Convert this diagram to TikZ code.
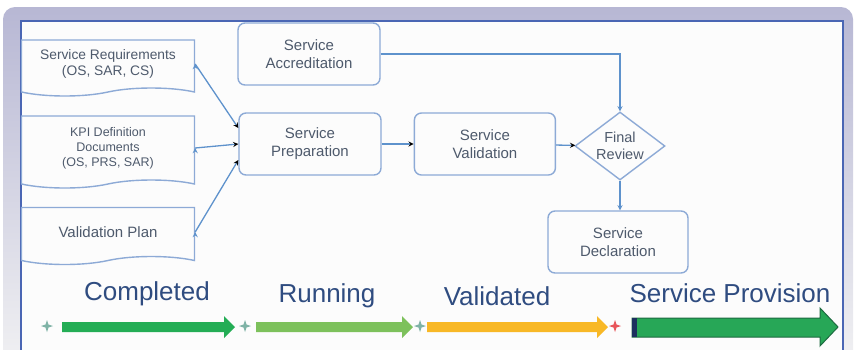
\documentclass[tikz,border=0pt]{standalone}
\usepackage{fontspec}
\setmainfont{Liberation Sans}
\usetikzlibrary{positioning,shapes.geometric,shapes.symbols}

\definecolor{boxline}{HTML}{8DAAD6}
\definecolor{flowline}{HTML}{5E92CC}
\definecolor{boxtext}{HTML}{4E5A6C}
\definecolor{phasetext}{HTML}{2F4C80}
\definecolor{panelline}{HTML}{4A66B4}
\definecolor{donegreen}{HTML}{24AD55}
\definecolor{rungreen}{HTML}{7DC15C}
\definecolor{validorange}{HTML}{F8B826}
\definecolor{provgreen}{HTML}{27A757}
\definecolor{provedge}{HTML}{1D6B40}
\definecolor{provnavy}{HTML}{1C2F5E}
\definecolor{markteal}{HTML}{7FB3A6}
\definecolor{markred}{HTML}{E8555A}

\begin{document}
\begin{tikzpicture}[x=1pt, y=-1pt,
  doc/.style={tape, draw=boxline, line width=1.4pt, tape bend top=none, tape bend bottom=in and out, tape bend height=8pt, minimum width=173pt, align=center, text=boxtext, font=\fontsize{12.5}{15}\selectfont, inner sep=2pt},
  proc/.style={rectangle, rounded corners=7pt, draw=boxline, line width=1.4pt, minimum width=142pt, minimum height=62pt, align=center, text=boxtext, font=\fontsize{15}{18}\selectfont},
  dec/.style={diamond, draw=boxline, line width=1.4pt, minimum width=90pt, minimum height=68pt, inner sep=0pt, aspect=1.3, align=center, text=boxtext, font=\fontsize{14.5}{17}\selectfont},
  phase/.style={text=phasetext, font=\fontsize{26}{30}\selectfont},
  flow/.style={->, >=stealth, draw=flowline, line width=1.3pt}]

	% frame
	\useasboundingbox (0,0) rectangle (854,349);
	\shade[top color=blue!25!gray!45, bottom color=blue!5!gray!10, rounded corners=12pt] (3,7) rectangle (853,370);
	\fill[white!98!gray] (21,21) rectangle (843,360);
	\draw[panelline, line width=1.3pt] (21,360) -- (21,21) -- (843,21) -- (843,360);

	% documents
	\node[doc, minimum height=56pt, font=\fontsize{13.8}{16}\selectfont] (req) at (108,64) {Service Requirements\\(OS, SAR, CS)};
	\node[doc, minimum height=72pt] (kpi) at (108,148) {KPI Definition\\Documents\\(OS, PRS, SAR)};
	\node[doc, minimum height=57pt, font=\fontsize{15}{18}\selectfont] (plan) at (108,232) {Validation Plan};

	% process
	\node[proc] (accr) at (309,54) {Service\\Accreditation};
	\node[proc] (prep) at (310,144) {Service\\Preparation};
	\node[proc, minimum width=141pt, right=32pt of prep] (valid) {Service\\Validation};
	\node[dec] (review) at (620,146) {Final\\Review};
	\node[proc, minimum width=140pt] (decl) at (618,242) {Service\\Declaration};

	\path[flow] (req.east) edge ([yshift=16pt]prep.west);
	\path[flow] (kpi.east) edge (prep.west);
	\path[flow] (plan.east) edge ([yshift=-16pt]prep.west);
	\path[flow] (prep) edge (valid);
	\path[flow] (valid) edge (review);
	\draw[flow] (accr.east) -| (review.north);
	\draw[flow] (review.south) -- (review.south |- decl.north);

	% phases
	\node[phase] (done) at (147,294) {Completed};
	\node[phase] (run) at (327,296) {Running};
	\node[phase] (val) at (497,296) {Validated};
	\node[phase] (prov) at (730,293) {Service Provision};

	\foreach \xa/\xb/\col in {62/235/donegreen, 256/413/rungreen, 427/608/validorange}
		\fill[\col] (\xa,322) -- (\xb-11,322) -- (\xb-11,316) -- (\xb,327) -- (\xb-11,338) -- (\xb-11,332) -- (\xa,332) -- cycle;
	\foreach \xm/\col in {47/markteal, 245/markteal, 420/markteal, 615/markred}
		\fill[\col] (\xm,320) -- (\xm+1.5,324.5) -- (\xm+6,326) -- (\xm+1.5,327.5) -- (\xm,332) -- (\xm-1.5,327.5) -- (\xm-6,326) -- (\xm-1.5,324.5) -- cycle;
	\filldraw[fill=provgreen, draw=provedge, line width=1pt] (632,318) -- (820,318) -- (820,308) -- (838,327) -- (820,346) -- (820,337) -- (632,337) -- cycle;
	\fill[provnavy] (632,318) rectangle (637,337);
\end{tikzpicture}
\end{document}
